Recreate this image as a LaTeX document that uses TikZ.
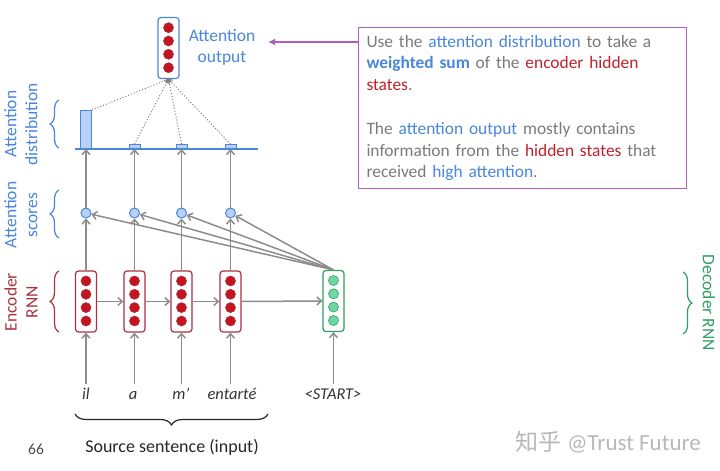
\documentclass[tikz,border=0pt]{standalone}
\usepackage{fontspec}
\setmainfont{Carlito}
\newfontfamily\cjk{Noto Sans CJK SC}
\usetikzlibrary{arrows.meta,decorations.pathreplacing}
\definecolor{encred}{HTML}{A8323E}
\definecolor{dotred}{HTML}{C41420}
\definecolor{decgreen}{HTML}{2E9E62}
\definecolor{dotgreen}{HTML}{6ED8A2}
\definecolor{attblue}{HTML}{4A86DC}
\definecolor{lightblue}{HTML}{B9D1F7}
\definecolor{arrgray}{HTML}{8C8C8C}
\definecolor{boxpurple}{HTML}{B05CC0}
\definecolor{txtgray}{HTML}{7A7A7A}
\definecolor{txtred}{HTML}{C0202A}
\begin{document}
\begin{tikzpicture}[x=1pt,y=-1pt,
  cellbox/.style={draw, rounded corners=3pt, line width=1.2pt, minimum width=21pt, minimum height=61pt, inner sep=0pt, fill=white},
  encdot/.style={circle, draw=encred, fill=dotred, line width=0.6pt, minimum size=10pt, inner sep=0pt},
  decdot/.style={circle, draw=decgreen, fill=dotgreen, line width=0.6pt, minimum size=10pt, inner sep=0pt},
  score/.style={circle, draw=attblue, fill=lightblue, line width=1pt, minimum size=10pt, inner sep=0pt},
  bar/.style={draw=attblue, fill=lightblue, line width=1pt, minimum width=11pt, inner sep=0pt, anchor=south},
  arr/.style={draw=arrgray, line width=1.5pt, -{Straight Barb[length=4.5pt,width=8pt]}},
  dotarr/.style={draw=arrgray!90!black, line width=1pt, dotted, -{Straight Barb[length=3pt,width=5pt]}},
  word/.style={font=\fontsize{16.5}{19}\selectfont\itshape, text=black!80, inner sep=1pt, text height=11pt, text depth=3pt},
  sidelab/.style={font=\fontsize{17.5}{21}\selectfont, align=center, inner sep=0pt},
  brc/.style={decorate, decoration={brace, amplitude=9pt}, line width=1.2pt},
]
\useasboundingbox (0,0) rectangle (720,471);

% encoder cells
\foreach \i/\x in {1/86,2/134.5,3/181.5,4/230.5}{
  \node[cellbox, draw=encred] (e\i) at (\x,301.5) {};
  \foreach \yy in {281,294.3,307.6,321}{ \node[encdot] at (\x,\yy) {}; }
}
% decoder cell
\node[cellbox, draw=decgreen] (d) at (333.5,301) {};
\foreach \yy in {280.5,293.8,307.1,320.5}{ \node[decdot] at (333.5,\yy) {}; }

% words
\node[word] (w1) at (86,395) {il};
\node[word] (w2) at (133,395) {a};
\node[word] (w3) at (181,395) {m’};
\node[word] (w4) at (232,395) {entarté};
\node[word] (w5) at (333,395) {<START>};
\foreach \i in {1,2,3,4}{ \draw[arr, shorten <=3pt] (w\i.north -| e\i) -- (e\i.south); }
\draw[arr, shorten <=3pt] (w5.north -| d) -- (d.south);

% recurrent arrows
\draw[arr] (e1.east) -- (e2.west);
\draw[arr] (e2.east) -- (e3.west);
\draw[arr] (e3.east) -- (e4.west);
\draw[arr] (e4.east) -- (d.west);

% scores
\foreach \i/\x in {1/86,2/134.5,3/181.5,4/230.5}{
  \node[score] (s\i) at (\x,213) {};
}
\foreach \i in {1,2,3,4}{ \draw[arr] (e\i.north) -- (s\i.south); }
\foreach \i in {4,3,2,1}{ \draw[arr] (d.north) -- (s\i); }

% distribution
\coordinate (bl) at (75,149);
\coordinate (br) at (258,149);
\draw[attblue, line width=1.3pt] (bl) -- (br);
\node[bar, minimum height=38pt] (b1) at (86,149) {};
\node[bar, minimum height=4pt] (b2) at (134.5,149) {};
\node[bar, minimum height=4pt] (b3) at (181.5,149) {};
\node[bar, minimum height=4pt] (b4) at (230.5,149) {};
\foreach \i in {1,2,3,4}{ \draw[arr] (s\i.north) -- (b\i.south); }

% attention output
\node[cellbox, draw=attblue] (ao) at (168.5,48) {};
\foreach \yy in {27.7,41,54.3,67.7}{ \node[encdot] at (168.5,\yy) {}; }
\draw[dotarr] (b1.north east) -- (ao.south);
\foreach \i in {2,3,4}{ \draw[dotarr] (b\i.north) -- (ao.south); }
\node[sidelab, text=attblue] (aol) at (222,47) {Attention\\output};

% side labels and braces
\node[sidelab, rotate=90, text=attblue] (ldist) at (21,124) {Attention\\distribution};
\node[sidelab, rotate=90, text=attblue] (lscore) at (21,215) {Attention\\scores};
\node[sidelab, rotate=90, text=encred] (lenc) at (21,302) {Encoder\\RNN};
\node[sidelab, rotate=-90, text=decgreen] (ldec) at (709,303) {Decoder RNN};
\draw[brc, attblue] (59,148) -- (59,100);
\draw[brc, attblue] (59,238) -- (59,190);
\draw[brc, encred] (59,332) -- (59,271);
\draw[brc, decgreen] (683,272) -- (683,334);
\draw[brc, black!85, decoration={brace, amplitude=11pt}] (268,414) -- (75,414);
\node[font=\fontsize{18}{21}\selectfont, text=black!85] (src) at (172,447) {Source sentence (input)};
\node[font=\fontsize{15.5}{18}\selectfont, text=black!70] (pg) at (36,449) {66};

% info box
\node[draw=boxpurple, line width=1.6pt, text width=312pt, inner xsep=8pt, inner ysep=0pt,
      minimum height=161pt, align=left, text=txtgray,
      font=\fontsize{17.4}{21.8}\selectfont] (info) at (522.5,108)
 {Use the \textcolor{attblue}{attention distribution} to take a\\
  \textcolor{attblue}{\bfseries weighted sum} of the \textcolor{txtred}{encoder hidden}\\
  \textcolor{txtred}{states}.\\[21.8pt]
  The \textcolor{attblue}{attention output} mostly contains\\
  information from the \textcolor{txtred}{hidden states} that\\
  received \textcolor{attblue}{high attention}.};
\coordinate (pa) at (268,42);
\draw[boxpurple, line width=1.4pt, -{Latex[length=7pt,width=7pt]}] (info.north west |- pa) -- (pa);

% watermark
\node[anchor=east, text=black!28, font=\fontsize{23}{26}\selectfont, inner sep=0pt] (wm) at (701,442) {{\cjk 知乎} @Trust Future};
\end{tikzpicture}
\end{document}
